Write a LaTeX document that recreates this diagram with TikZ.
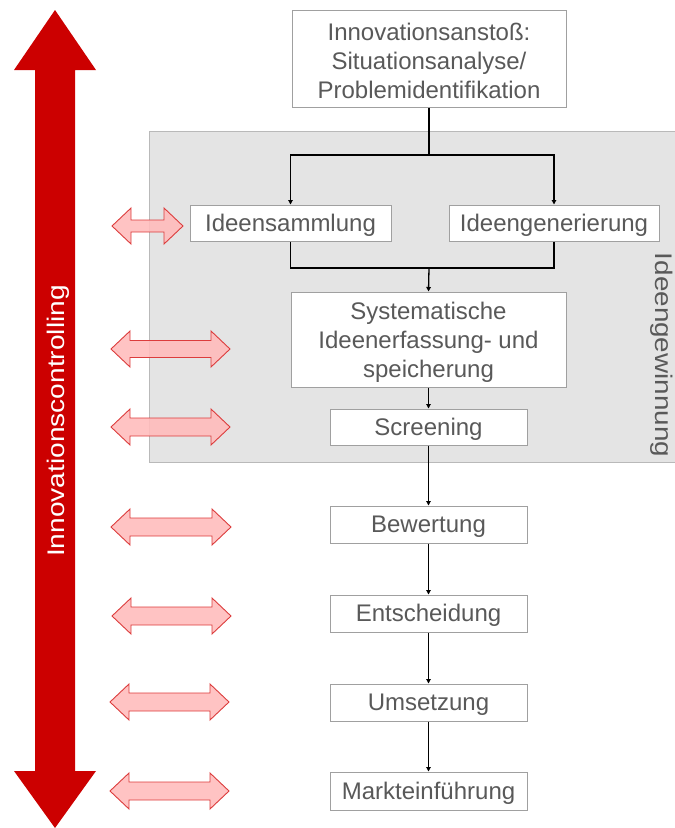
\documentclass[tikz,border=0pt]{standalone}
\usepackage{fontspec}
\setmainfont{Liberation Sans}
\usetikzlibrary{arrows.meta}

\definecolor{ctrlred}{RGB}{204,0,0}
\definecolor{txtgray}{RGB}{89,89,89}
\definecolor{boxline}{RGB}{160,160,160}
\definecolor{phasefill}{RGB}{228,228,228}
\definecolor{phaseline}{RGB}{185,185,185}
\definecolor{pinkfill}{RGB}{255,188,188}
\definecolor{pinkline}{RGB}{220,60,60}

\tikzset{
  txt/.style={font=\fontsize{24}{29}\selectfont, text=txtgray},
  stepbox/.style={txt, draw=boxline, line width=1pt, fill=white, align=center,
    inner sep=0pt, anchor=center},
  onestep/.style={stepbox, text height=21pt, text depth=5pt},
  conn/.style={line width=1.3pt, draw=black},
  flow/.style={conn, -{Triangle[length=4.5pt,width=4.5pt]}},
  pinkarrow/.style={draw=pinkline, line width=0.9pt, fill=pinkfill,
    fill opacity=0.9, line join=miter},
  bigarrow/.style={fill=ctrlred, draw=none},
  phase/.style={fill=phasefill, draw=phaseline, line width=1pt},
}

% two-headed link arrow: left tip x, right tip x, centre y, half shaft height
\newcommand{\linkarrow}[4]{%
  \draw[pinkarrow] (#1,#3) -- (#1+19,#3-18) -- (#1+19,#3-#4) -- (#2-19,#3-#4)
    -- (#2-19,#3-18) -- (#2,#3) -- (#2-19,#3+18) -- (#2-19,#3+#4)
    -- (#1+19,#3+#4) -- (#1+19,#3+18) -- cycle;}

\begin{document}
\begin{tikzpicture}[x=1pt, y=-1pt]
\useasboundingbox (0,0) rectangle (675,828);

% idea generation phase
\draw[phase] (149,131) rectangle (690,462);
\node[txt, rotate=-90] (phaselabel) at (662,355) {\scalebox{1.16}[1]{Ideengewinnung}};

% controlling arrow along the whole process
\draw[bigarrow] (55,10) -- (96,70) -- (75,70) -- (75,771) -- (96,771) -- (55,828)
  -- (14,771) -- (35,771) -- (35,70) -- (14,70) -- cycle;
\node[font=\fontsize{24}{29}\selectfont, text=white, rotate=90] (ctrl) at (58.5,421)
  {\scalebox{1.17}[1]{Innovationscontrolling}};

% process steps
\node[stepbox, minimum width=274pt, minimum height=97pt] (impulse) at (429,58.5)
  {\rule{0pt}{22pt}Innovationsanstoß:\\Situationsanalyse/\\Problemidentifikation};
\node[onestep, minimum width=201pt, minimum height=36pt] (collect) at (290.5,223) {Ideensammlung};
\node[onestep, minimum width=210pt, minimum height=36pt] (generate) at (554,223) {Ideengenerierung};
\node[stepbox, minimum width=275pt, minimum height=95pt] (store) at (428.5,339.5)
  {\rule{0pt}{22pt}Systematische\\Ideenerfassung- und\\speicherung};
\node[onestep, minimum width=197pt, minimum height=36pt] (screen) at (428.5,427) {Screening};
\node[onestep, minimum width=197pt, minimum height=37pt] (rate) at (428.5,524.5) {Bewertung};
\node[onestep, minimum width=197pt, minimum height=37pt] (decide) at (428.5,613.5) {Entscheidung};
\node[onestep, minimum width=197pt, minimum height=37pt] (implement) at (428.5,702.5) {Umsetzung};
\node[onestep, minimum width=197pt, minimum height=38pt] (launch) at (428.5,791) {Markteinführung};

% connectors
\coordinate (split) at (429,155);
\coordinate (merge) at (429,268);
\draw[conn] (impulse.south) -- (split);
\draw[flow] (split) -| (collect.north);
\draw[flow] (split) -| (generate.north);
\draw[conn] (collect.south) |- (merge);
\draw[conn] (generate.south) |- (merge);
\draw[flow] (merge) -- (store.north);
\draw[flow] (store.south) -- (screen.north);
\draw[flow] (screen.south) -- (rate.north);
\draw[flow] (rate.south) -- (decide.north);
\draw[flow] (decide.south) -- (implement.north);
\draw[flow] (implement.south) -- (launch.north);

% links between controlling and the steps
\linkarrow{112}{183}{226}{6}
\linkarrow{111}{230}{349}{8.5}
\linkarrow{111}{230}{427}{9}
\linkarrow{111}{231}{527}{9}
\linkarrow{112}{231}{616}{9}
\linkarrow{110}{229}{702}{9}
\linkarrow{110}{229}{791}{9}
\end{tikzpicture}
\end{document}
